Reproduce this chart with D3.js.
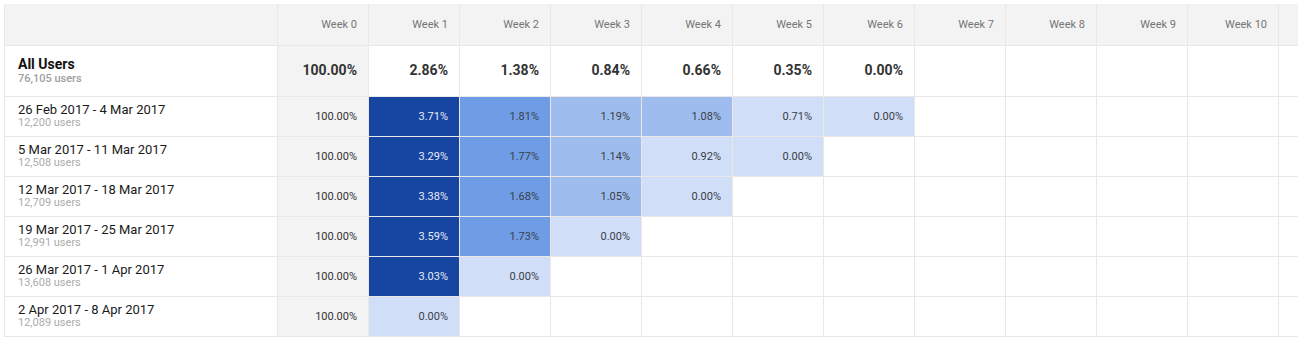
<!DOCTYPE html>
<html>
<head>
<meta charset="utf-8">
<script src="https://cdn.jsdelivr.net/npm/d3@7"></script>
<style>
  html, body { margin: 0; padding: 0; background: #fff; }
  svg { display: block; font-family: Roboto, "Noto Sans", sans-serif; }
</style>
</head>
<body>
<svg id="chart" width="1307" height="340"></svg>
<script>
// ---- data ----
const weeks = ["Week 0", "Week 1", "Week 2", "Week 3", "Week 4", "Week 5", "Week 6", "Week 7", "Week 8", "Week 9", "Week 10", ""];
const allUsersLabel = "All Users";
const allUsersCount = "76,105 users";
const allUsersValues = [100.00, 2.86, 1.38, 0.84, 0.66, 0.35, 0.00];
const cohortLabels = [
  "26 Feb 2017 - 4 Mar 2017",
  "5 Mar 2017 - 11 Mar 2017",
  "12 Mar 2017 - 18 Mar 2017",
  "19 Mar 2017 - 25 Mar 2017",
  "26 Mar 2017 - 1 Apr 2017",
  "2 Apr 2017 - 8 Apr 2017"
];
const cohortUsers = ["12,200 users", "12,508 users", "12,709 users", "12,991 users", "13,608 users", "12,089 users"];
const cohortValues = [
  [100.00, 3.71, 1.81, 1.19, 1.08, 0.71, 0.00],
  [100.00, 3.29, 1.77, 1.14, 0.92, 0.00],
  [100.00, 3.38, 1.68, 1.05, 0.00],
  [100.00, 3.59, 1.73, 0.00],
  [100.00, 3.03, 0.00],
  [100.00, 0.00]
];

// ---- layout ----
const svg = d3.select("#chart");
const tLeft = 4, labelW = 273, colW = 91, tRight = 1298;
const tTop = 4, headerH = 41, allH = 51, rowH = 40;
const gridColor = "#ece6e7";

const x = d3.scaleBand().domain(d3.range(weeks.length)).range([tLeft + labelW, tLeft + labelW + colW * weeks.length]);
const rowsTop = tTop + headerH + allH;
const y = d3.scaleBand().domain(d3.range(cohortLabels.length)).range([rowsTop, rowsTop + rowH * cohortLabels.length]);
const tBottom = rowsTop + rowH * cohortLabels.length;

const color = d3.scaleThreshold().domain([1.0, 1.5, 3.0]).range(["#d1def7", "#9ebdee", "#6e9de6", "#1746a2"]);
const textColor = d3.scaleThreshold().domain([3.0]).range(["#3a3f4a", "#e6ecf8"]);
const fmt = v => v.toFixed(2) + "%";

svg.append("defs").append("clipPath").attr("id", "tbl")
  .append("rect").attr("x", tLeft).attr("y", tTop).attr("width", tRight - tLeft).attr("height", tBottom - tTop + 1);
const g = svg.append("g").attr("clip-path", "url(#tbl)");

// header background
g.append("rect").attr("x", tLeft).attr("y", tTop).attr("width", tRight - tLeft).attr("height", headerH).attr("fill", "#f3f3f3");
// week 0 column background
g.append("rect").attr("x", x(0)).attr("y", tTop + headerH).attr("width", x.bandwidth()).attr("height", tBottom - tTop - headerH).attr("fill", "#f3f3f3");

// grid lines - horizontal
const hLines = [tTop + headerH, tTop + headerH + allH].concat(d3.range(1, cohortLabels.length + 1).map(i => rowsTop + rowH * i));
g.selectAll(".hl").data(hLines).join("line")
  .attr("x1", tLeft).attr("x2", tRight).attr("y1", d => d + 0.5).attr("y2", d => d + 0.5)
  .attr("stroke", gridColor).attr("stroke-width", 1);
// vertical
const vLines = [tLeft].concat(d3.range(weeks.length).map(i => x(i)));
g.selectAll(".vl").data(vLines).join("line")
  .attr("x1", d => d + 0.5).attr("x2", d => d + 0.5).attr("y1", tTop).attr("y2", tBottom)
  .attr("stroke", gridColor).attr("stroke-width", 1);

// header labels
g.selectAll(".wk").data(weeks).join("text")
  .attr("x", (d, i) => x(i) + x.bandwidth() - 11)
  .attr("y", tTop + 24)
  .attr("text-anchor", "end")
  .attr("font-size", 11).attr("fill", "#757575")
  .text(d => d);

// all users row
const ay = tTop + headerH;
g.append("text").attr("x", 18).attr("y", ay + 24).attr("font-size", 14).attr("font-weight", 700).attr("fill", "#111").text(allUsersLabel);
g.append("text").attr("x", 18).attr("y", ay + 37).attr("font-size", 11).attr("font-weight", 500).attr("fill", "#9e9e9e").text(allUsersCount);
g.selectAll(".av").data(allUsersValues).join("text")
  .attr("x", (d, i) => x(i) + x.bandwidth() - 11)
  .attr("y", ay + 30)
  .attr("text-anchor", "end")
  .attr("font-size", 14).attr("font-weight", 700).attr("fill", "#333")
  .text(d => fmt(d));

// cohort rows
cohortLabels.forEach((lab, r) => {
  const ry = y(r);
  g.append("text").attr("x", 18).attr("y", ry + 18).attr("font-size", 13).attr("fill", "#1a1a1a").text(lab);
  g.append("text").attr("x", 18).attr("y", ry + 30).attr("font-size", 11).attr("fill", "#ababab").text(cohortUsers[r]);
  const vals = cohortValues[r];
  const cells = g.selectAll(".c" + r).data(vals).join("g");
  cells.filter((d, i) => i > 0).append("rect")
    .attr("x", (d, i) => x(i + 1) + 1)
    .attr("y", ry + 1)
    .attr("width", x.bandwidth() - 1)
    .attr("height", y.bandwidth() - 1)
    .attr("fill", d => color(d));
  cells.append("text")
    .attr("x", (d, i) => x(i) + x.bandwidth() - 11)
    .attr("y", ry + 24)
    .attr("text-anchor", "end")
    .attr("font-size", 11)
    .attr("fill", (d, i) => i === 0 ? "#333" : textColor(d))
    .text(d => fmt(d));
});
</script>
</body>
</html>
